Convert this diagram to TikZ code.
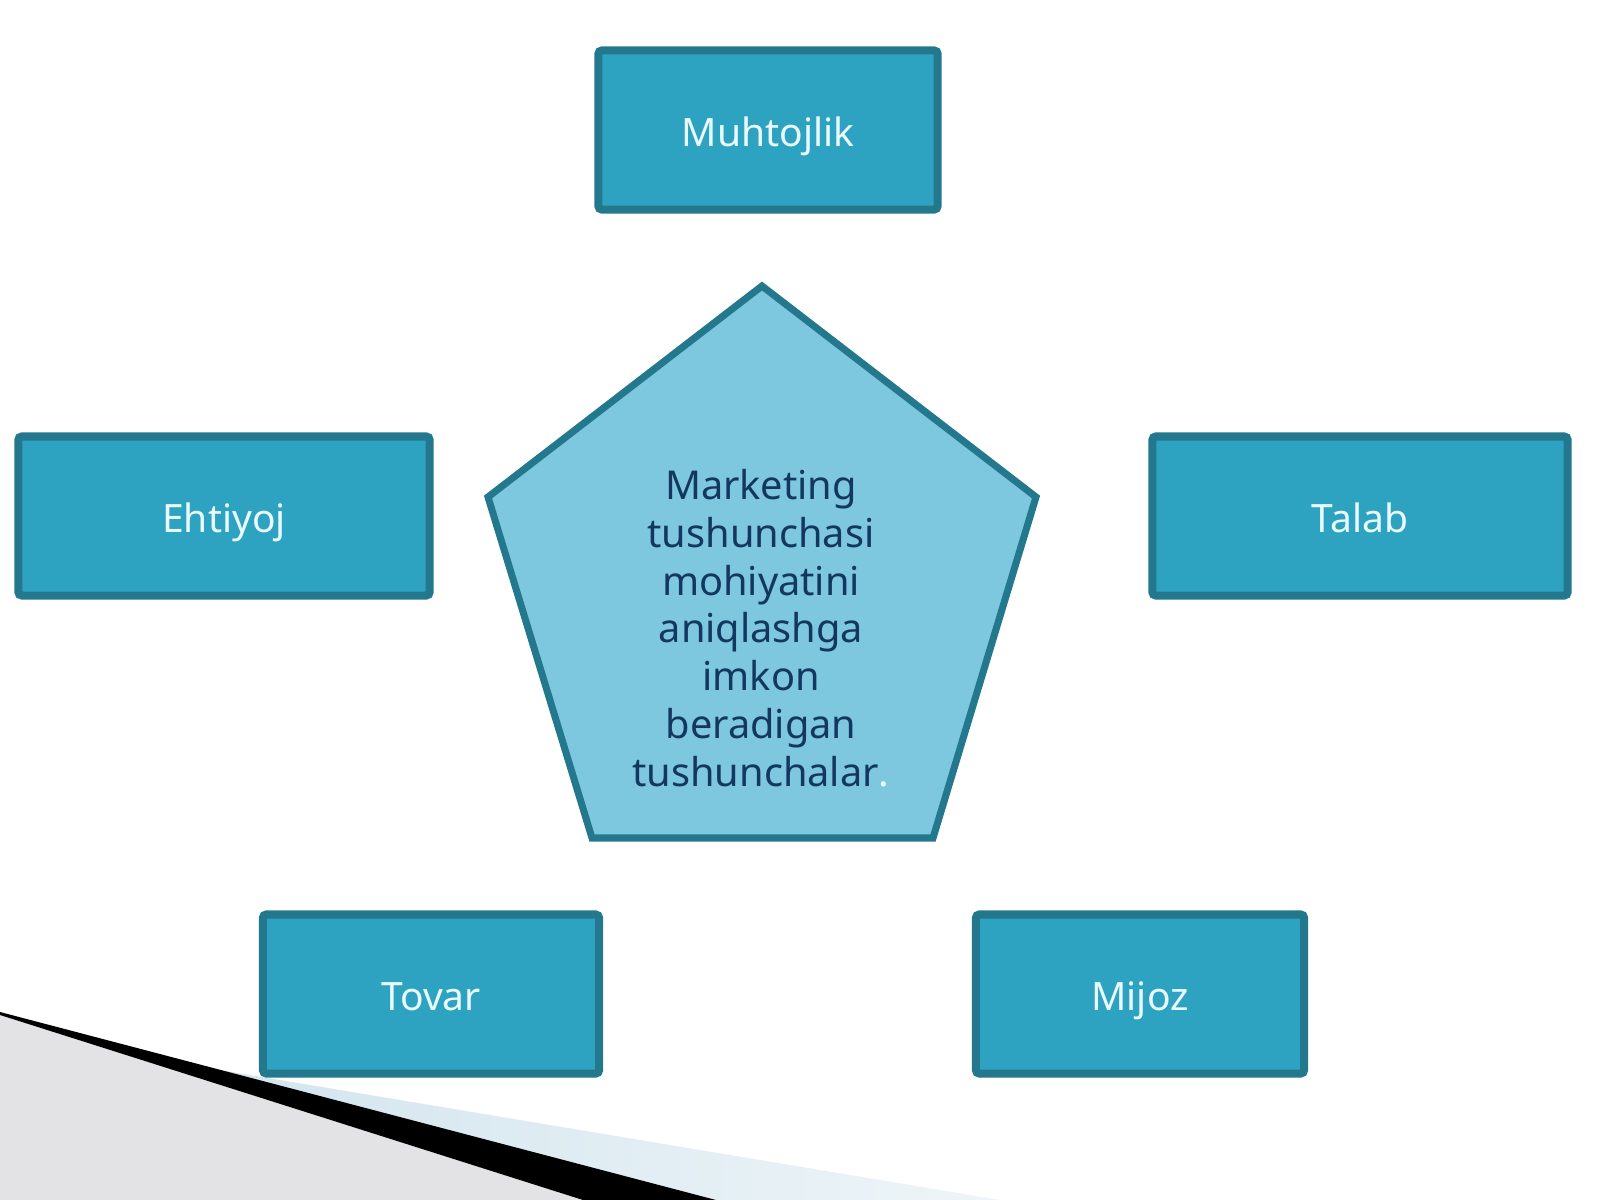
\documentclass[tikz,border=0pt]{standalone}
\usepackage{fontspec}
\setmainfont{Noto Sans}
\definecolor{boxfill}{HTML}{2EA3C1}
\definecolor{boxedge}{HTML}{23788D}
\definecolor{boxtext}{HTML}{EAFBFF}
\definecolor{pentfill}{HTML}{7DC8DF}
\definecolor{textdark}{HTML}{14375F}
\definecolor{grayfloor}{HTML}{E3E3E5}
\definecolor{stripblue}{HTML}{D3E5EE}
\definecolor{stripfade}{HTML}{EEF5F8}

\begin{document}
\begin{tikzpicture}[x=0.01cm, y=-0.01cm,
  concept/.style={rectangle, draw=boxedge, line width=2.3pt, fill=boxfill,
    rounded corners=1pt, minimum height=1.59cm, inner sep=0pt,
    text height=0.33cm, text depth=0pt,
    text=boxtext, font=\fontsize{11.1}{13.6}\selectfont}]
% Page
\fill[white] (0,0) rectangle (1600,1200);
\useasboundingbox (0,0) rectangle (1600,1200);

% Corner decoration
\fill[grayfloor] (0,1015) -- (583,1200) -- (0,1200) -- cycle;
\shade[left color=stripblue, right color=stripfade] (214,1069) -- (1000,1200) -- (716,1200) -- cycle;
\fill[black] (0,1012) -- (716,1200) -- (583,1200) -- (0,1015) -- cycle;

% Central pentagon
\coordinate (pTop) at (762,286);
\coordinate (pRight) at (1036,497);
\coordinate (pBR) at (933,838);
\coordinate (pBL) at (592,838);
\coordinate (pLeft) at (488,497);
\filldraw[fill=pentfill, draw=boxedge, line width=2pt] (pTop) -- (pRight) -- (pBR) -- (pBL) -- (pLeft) -- cycle;
\node[text=textdark, align=center, font=\fontsize{11.3}{13.6}\selectfont] (core) at (761,628) {
Marketing \\ tushunchasi \\ mohiyatini \\ aniqlashga \\ imkon \\ beradigan \\ tushunchalar\textcolor{boxtext}{.}
};

% Surrounding concepts
\node[concept, minimum width=3.39cm] (muhtojlik) at (768,130) {Muhtojlik};
\node[concept, minimum width=4.11cm] (ehtiyoj) at (224,516) {Ehtiyoj};
\node[concept, minimum width=4.15cm] (talab) at (1360,516) {Talab};
\node[concept, minimum width=3.36cm] (tovar) at (431,994) {Tovar};
\node[concept, minimum width=3.28cm] (mijoz) at (1140,994) {Mijoz};

\end{tikzpicture}
\end{document}
